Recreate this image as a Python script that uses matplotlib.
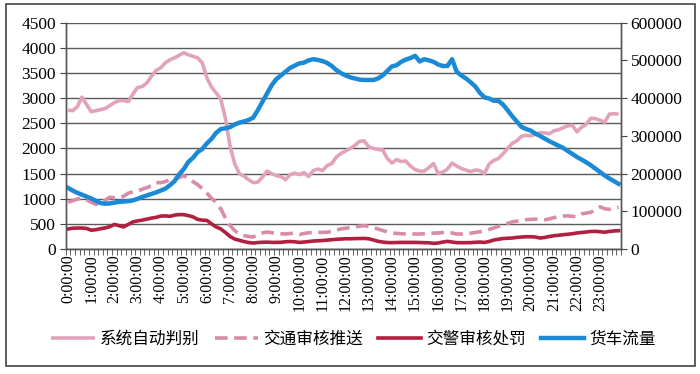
import numpy as np
import matplotlib.pyplot as plt
import matplotlib as mpl
from matplotlib import patches

# 12-minute bins over one day, 5 per hour
hours = list(range(24))
tick_labels = ["%d:00:00" % h for h in hours]

auto_detect = [2760, 2750, 2830, 3020, 2870, 2730, 2750, 2770, 2790, 2850,
               2910, 2950, 2950, 2930, 3080, 3210, 3230, 3300, 3430, 3550,
               3600, 3700, 3760, 3800, 3850, 3900, 3860, 3830, 3800, 3700,
               3400, 3220, 3100, 2980, 2600, 2050, 1700, 1500, 1450, 1380,
               1320, 1330, 1430, 1550, 1500, 1460, 1440, 1380, 1480, 1510,
               1480, 1520, 1440, 1560, 1590, 1560, 1660, 1700, 1830, 1900,
               1950, 2000, 2060, 2140, 2150, 2030, 2000, 1980, 1970, 1800,
               1710, 1780, 1740, 1750, 1650, 1580, 1550, 1550, 1620, 1700,
               1500, 1530, 1590, 1710, 1650, 1600, 1570, 1540, 1570, 1560,
               1500, 1690, 1760, 1800, 1890, 2000, 2100, 2150, 2240, 2260,
               2250, 2280, 2310, 2310, 2290, 2350, 2370, 2410, 2450, 2460,
               2330, 2420, 2480, 2600, 2590, 2560, 2520, 2680, 2690, 2680]

traffic_push = [930, 960, 995, 1010, 980, 930, 890, 900, 970, 1030,
                1020, 1020, 1050, 1110, 1140, 1150, 1190, 1220, 1260, 1320,
                1320, 1340, 1380, 1390, 1420, 1460, 1410, 1340, 1280, 1200,
                1110, 1010, 930, 800, 620, 470, 370, 300, 270, 250,
                240, 290, 320, 340, 325, 310, 305, 300, 310, 315,
                290, 310, 325, 332, 332, 332, 335, 350, 380, 400,
                415, 425, 435, 455, 465, 450, 425, 400, 370, 340,
                320, 312, 305, 300, 300, 300, 300, 305, 313, 318,
                320, 330, 340, 320, 300, 300, 300, 315, 330, 345,
                360, 390, 420, 450, 480, 510, 540, 555, 570, 585,
                590, 596, 590, 583, 600, 625, 640, 655, 660, 650,
                645, 700, 715, 730, 790, 840, 800, 790, 810, 828]

police_penalty = [400, 415, 418, 418, 410, 375, 385, 405, 420, 445,
                  490, 465, 440, 490, 540, 560, 575, 595, 615, 630,
                  655, 660, 650, 675, 685, 684, 665, 640, 590, 575,
                  570, 500, 440, 400, 330, 250, 200, 175, 150, 130,
                  120, 130, 135, 138, 133, 133, 135, 145, 150, 145,
                  133, 140, 150, 160, 165, 170, 178, 186, 195, 200,
                  205, 205, 208, 210, 212, 205, 180, 155, 140, 130,
                  128, 130, 133, 133, 133, 133, 130, 127, 125, 115,
                  120, 140, 153, 140, 128, 127, 127, 128, 135, 140,
                  132, 150, 180, 195, 210, 215, 220, 232, 240, 245,
                  245, 240, 220, 230, 250, 265, 275, 285, 295, 305,
                  320, 330, 340, 350, 352, 345, 335, 350, 360, 365]

truck_flow = [162000, 155000, 149000, 144000, 139000, 134000, 128000, 122000, 120000, 121000,
              123000, 125000, 126000, 127000, 129000, 133000, 138000, 142000, 146000, 150000,
              155000, 160000, 169000, 180000, 198000, 212000, 231000, 242000, 257000, 265000,
              280000, 292000, 308000, 318000, 320000, 323000, 330000, 335000, 338000, 342000,
              348000, 368000, 390000, 412000, 434000, 450000, 460000, 470000, 480000, 486000,
              492000, 494000, 500000, 503000, 501000, 498000, 493000, 485000, 474000, 466000,
              460000, 455000, 452000, 449000, 448000, 448000, 448000, 452000, 460000, 472000,
              484000, 487000, 496000, 502000, 506000, 512000, 497000, 503000, 500000, 496000,
              489000, 485000, 485000, 503000, 470000, 460000, 452000, 442000, 431000, 414000,
              402000, 399000, 393000, 393000, 383000, 368000, 352000, 338000, 324000, 318000,
              314000, 306000, 300000, 293000, 286000, 280000, 274000, 268000, 260000, 252000,
              244000, 237000, 230000, 222000, 213000, 204000, 195000, 187000, 180000, 173000]

names = ['系统自动判别', '交通审核推送', '交警审核处罚', '货车流量']

mpl.rcParams['font.family'] = ['Liberation Serif', 'Noto Sans CJK SC']
mpl.rcParams['xtick.major.size'] = 0
mpl.rcParams['xtick.minor.size'] = 4
mpl.rcParams['ytick.major.size'] = 4

fig = plt.figure(figsize=(7, 3.74), dpi=100)
ax = fig.add_axes([0.094, 0.334, 0.793, 0.6056])
ax2 = ax.twinx()

x = np.arange(len(truck_flow))

l1, = ax.plot(x, auto_detect, color='#E2A2BC', lw=2.6, solid_capstyle='butt')
l2, = ax.plot(x, traffic_push, color='#D88CA9', lw=2.6, dashes=(3.5, 1.8))
l3, = ax.plot(x, police_penalty, color='#B21F40', lw=2.6)
l4, = ax2.plot(x, truck_flow, color='#1B8AD6', lw=3.2)

ax.set_xlim(-0.5, len(x) - 0.5)
ax.set_ylim(0, 4500)
ax.set_yticks(np.arange(0, 4501, 500))
ax2.set_ylim(0, 600000)
ax2.set_yticks(np.arange(0, 600001, 100000))

ax.set_xticks(np.arange(0, len(x), 5))
ax.set_xticklabels(tick_labels, rotation=90, fontsize=11.5)
ax.set_xticks(np.arange(-0.5, len(x), 1), minor=True)
ax.tick_params(axis='x', which='both', direction='out', color='#444', pad=4)
ax.tick_params(axis='y', labelsize=12.5, color='#444', pad=3)
ax2.tick_params(axis='y', labelsize=12.5, color='#444', pad=3)

ax.grid(axis='y', color='#5a5a5a', lw=1.0)
ax.set_axisbelow(True)
for a in (ax, ax2):
    a.spines['top'].set_visible(False)
    for s in ('left', 'bottom', 'right'):
        a.spines[s].set_color('#555')
        a.spines[s].set_linewidth(1.0)

fig.legend([l1, l2, l3, l4], names, loc='center', bbox_to_anchor=(0.505, 0.092),
           ncol=4, frameon=False, handlelength=2.6, handletextpad=0.3,
           columnspacing=0.9, prop={'family': ['Noto Sans CJK SC'], 'size': 12})

border = patches.Rectangle((0.009, 0.021), 0.984, 0.968, transform=fig.transFigure,
                           fill=False, edgecolor='#444', lw=1.2)
fig.patches.append(border)

fig.savefig('out.png', dpi=100)
